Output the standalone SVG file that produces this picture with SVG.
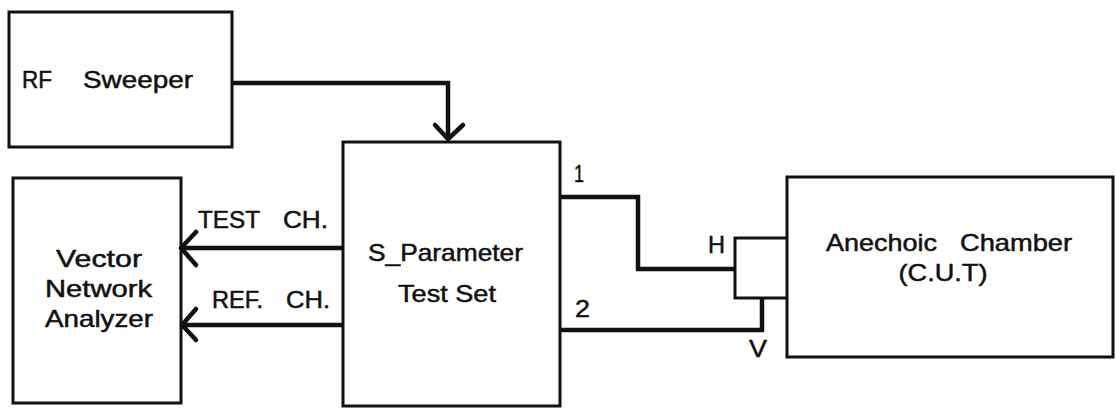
<svg xmlns="http://www.w3.org/2000/svg" width="1116" height="408" viewBox="0 0 1116 408">
<style>
.box{fill:none;stroke:#111;stroke-width:3}
.wire{fill:none;stroke:#111;stroke-width:4.5;stroke-linejoin:miter}
.head{fill:none;stroke:#111;stroke-width:4.5;stroke-linecap:round;stroke-linejoin:round}
.t{font-family:"Liberation Sans",Arial,sans-serif;font-size:24px;fill:#111;stroke:#111;stroke-width:0.5}
</style>
<rect width="1116" height="408" fill="#fff"/>
<g id="rf-sweeper">
<rect class="box" x="9" y="12" width="223" height="135"/>
<text class="t" y="88"><tspan x="22" textLength="30" lengthAdjust="spacingAndGlyphs">RF</tspan> <tspan x="83" textLength="110" lengthAdjust="spacingAndGlyphs">Sweeper</tspan></text>
</g>
<g id="vna">
<rect class="box" x="13" y="178" width="168" height="225"/>
<text class="t" x="99" y="267" text-anchor="middle" textLength="86" lengthAdjust="spacingAndGlyphs">Vector</text>
<text class="t" x="98.5" y="297" text-anchor="middle" textLength="107" lengthAdjust="spacingAndGlyphs">Network</text>
<text class="t" x="99" y="327" text-anchor="middle" textLength="108" lengthAdjust="spacingAndGlyphs">Analyzer</text>
</g>
<g id="s-parameter-test-set">
<rect class="box" x="343" y="142" width="217" height="264"/>
<text class="t" x="445.5" y="261" text-anchor="middle" textLength="155" lengthAdjust="spacingAndGlyphs">S_Parameter</text>
<text class="t" x="447" y="302" text-anchor="middle" textLength="98" lengthAdjust="spacingAndGlyphs">Test Set</text>
</g>
<g id="antenna-feed">
<path class="box" d="M787,238 H735 V298 H787"/>
</g>
<g id="anechoic-chamber">
<rect class="box" x="787" y="177" width="326" height="180"/>
<text class="t" y="251"><tspan x="826" textLength="111" lengthAdjust="spacingAndGlyphs">Anechoic</tspan> <tspan x="960" textLength="112" lengthAdjust="spacingAndGlyphs">Chamber</tspan></text>
<text class="t" x="943" y="281" text-anchor="middle" textLength="89" lengthAdjust="spacingAndGlyphs">(C.U.T)</text>
</g>
<g id="connectors">
<path class="wire" d="M232,83 H448 V139"/>
<path class="head" d="M435,125 L448,139 L463,125"/>
<path class="wire" d="M343,248 H182"/>
<path class="head" d="M196,232 L181,248 L196,265"/>
<path class="wire" d="M343,325 H183"/>
<path class="head" d="M196,309 L182,325 L196,340"/>
<path class="wire" d="M560,197 H638 V269 H735"/>
<path class="wire" d="M560,330 H762 V298"/>
</g>
<g id="labels">
<text class="t" x="198" y="228" textLength="62" lengthAdjust="spacingAndGlyphs">TEST</text>
<text class="t" x="283" y="228" textLength="45" lengthAdjust="spacingAndGlyphs">CH.</text>
<text class="t" x="212" y="308" textLength="51" lengthAdjust="spacingAndGlyphs">REF.</text>
<text class="t" x="286" y="308" textLength="44" lengthAdjust="spacingAndGlyphs">CH.</text>
<text class="t" x="574" y="182" textLength="10" lengthAdjust="spacingAndGlyphs">1</text>
<text class="t" x="575" y="317" textLength="15" lengthAdjust="spacingAndGlyphs">2</text>
<text class="t" x="708" y="253" textLength="17" lengthAdjust="spacingAndGlyphs">H</text>
<text class="t" x="749" y="357" textLength="18" lengthAdjust="spacingAndGlyphs">V</text>
</g>
</svg>
